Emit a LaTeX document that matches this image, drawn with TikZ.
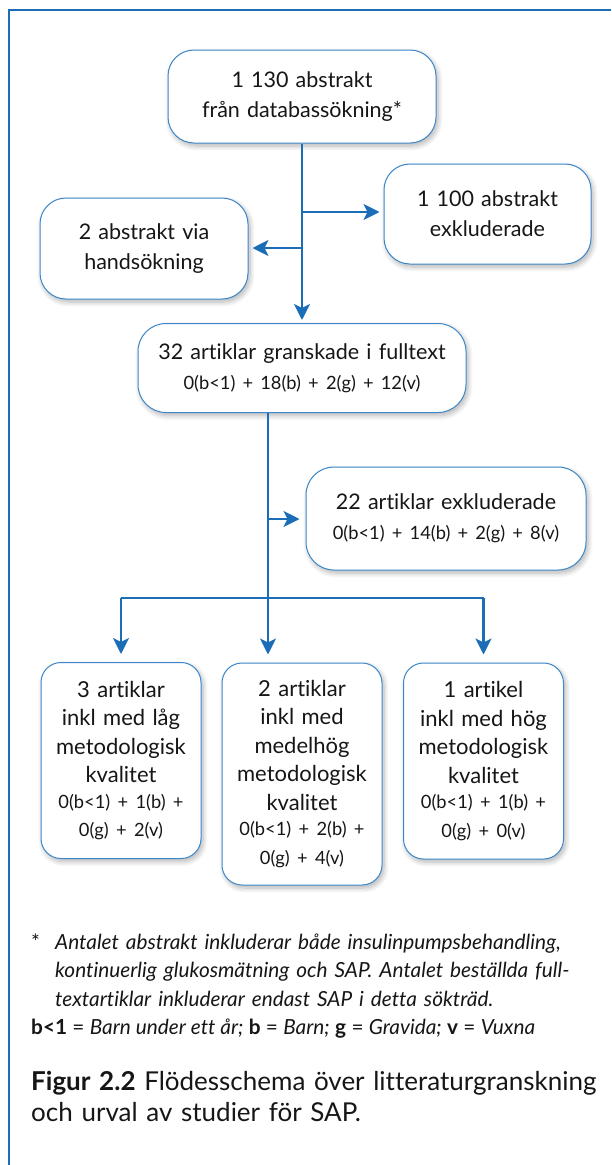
\documentclass[tikz,border=0pt]{standalone}
\usepackage{fontspec}
\setmainfont{Lato}[Ligatures=NoCommon]
\newfontfamily\countfont{Lato}[Ligatures=NoCommon, WordSpace=0.8]
\usetikzlibrary{arrows.meta,shadows.blur,calc}

\definecolor{sapblue}{HTML}{1B6DB7}
\definecolor{boxline}{HTML}{3B87C9}
\definecolor{ink}{HTML}{161616}

\newcommand{\boxsize}{\fontsize{21.5}{30}\selectfont}
\newcommand{\tallsize}{\fontsize{22}{28.5}\selectfont}
\newcommand{\countsize}{\countfont\fontsize{18.3}{25.5}\selectfont}
\newcommand{\notesize}{\fontsize{20.8}{28.5}\selectfont}
\newcommand{\capsize}{\fontsize{26}{31}\selectfont}

\begin{document}
\begin{tikzpicture}[x=1pt,y=-1pt,
  flowbox/.style={draw=boxline, line width=1pt, fill=white, rounded corners=26pt,
    align=center, text=ink, inner sep=0pt, font=\boxsize,
    blur shadow={shadow xshift=2pt, shadow yshift=-3pt, shadow blur radius=5pt,
      shadow blur steps=8, shadow opacity=30}},
  tallbox/.style={flowbox, rounded corners=20pt, font=\tallsize,
    minimum width=160pt, text width=156pt},
  link/.style={draw=sapblue, line width=2.5pt},
  flow/.style={link, -{Stealth[length=16pt,width=16pt,inset=4pt]}},
  note/.style={inner sep=0pt, text=ink, anchor=base west}
]
\useasboundingbox (0,0) rectangle (611,1165);

% outer frame, open to the right and bottom
\draw[sapblue, line width=1.6pt] (611,10) -- (9,10) -- (9,1165);

% boxes
\node[flowbox, minimum width=268pt, minimum height=93pt, text width=255pt]
  (top) at (302,96.5) {1 130 abstrakt\\ från databassökning*};
\node[flowbox, minimum width=207pt, minimum height=100pt, text width=195pt]
  (excl1) at (487.5,214) {1 100 abstrakt\\ exkluderade};
\node[flowbox, minimum width=208pt, minimum height=101pt, text width=195pt]
  (hand) at (144,248.5) {2 abstrakt via\\ handsökning};
\node[flowbox, rounded corners=28pt, minimum width=328pt, minimum height=89pt, text width=315pt]
  (full) at (302,368) {32 artiklar granskade i fulltext\par
  \countsize 0(b<1) + 18(b) + 2(g) + 12(v)};
\node[flowbox, rounded corners=28pt, minimum width=280pt, minimum height=103pt, text width=268pt]
  (excl2) at (446,518.5) {22 artiklar exkluderade\par
  \countsize 0(b<1) + 14(b) + 2(g) + 8(v)};

\node[tallbox, minimum height=196pt] (low) at (121,760.5)
  {3 artiklar\\ inkl med låg\\ metodologisk\\ kvalitet\par
  \countsize 0(b<1) + 1(b) +\\ 0(g) + 2(v)};
\node[tallbox, minimum height=222pt] (mid) at (302,774)
  {2 artiklar\\ inkl med\\ medelhög\\ metodologisk\\ kvalitet\par
  \countsize 0(b<1) + 2(b) +\\ 0(g) + 4(v)};
\node[tallbox, minimum height=196pt] (high) at (483.5,761)
  {1 artikel\\ inkl med hög\\ metodologisk\\ kvalitet\par
  \countsize 0(b<1) + 1(b) +\\ 0(g) + 0(v)};

% junction points on the connectors
\coordinate (splitA) at (302,212);
\coordinate (splitB) at (302,248);
\coordinate (splitC) at (268,519);
\coordinate (spine) at (268,598);

% connectors
\draw[flow, shorten >=3pt] (top.south) -- (full.north);
\draw[flow, shorten >=4pt] (splitA) -- (splitA -| excl1.west);
\draw[flow, shorten >=4pt] (splitB) -- (splitB -| hand.east);
\draw[link] (full.south -| spine) -- (spine);
\draw[flow, shorten >=6pt] (splitC) -- (splitC -| excl2.west);
\draw[link] (spine -| low.north) -- (spine -| high.north);
\draw[flow, shorten >=8pt] (spine) -- (spine |- mid.north);
\draw[flow, shorten >=8pt] (spine -| low.north) -- (low.north);
\draw[flow, shorten >=8pt] (spine -| high.north) -- (high.north);

% footnotes
\node[note, font=\notesize] (star) at (31,949) {*};
\node[note, font=\notesize\itshape, text width=555pt, align=left] (notetext) at (55,949)
  {Antalet abstrakt inkluderar både insulinpumpsbehandling,\\
   kontinuerlig glukosmätning och SAP. Antalet beställda full-\\
   textartiklar inkluderar endast SAP i detta sökträd.};
\node[note, font=\notesize] (key) at (31,1034.5)
  {\textbf{b<1} = \textit{Barn under ett år;} \textbf{b} = \textit{Barn;}
   \textbf{g} = \textit{Gravida;} \textbf{v} = \textit{Vuxna}};

% caption
\node[note, font=\capsize, text width=580pt, align=left] (caption) at (31,1090)
  {\textbf{Figur 2.2} Flödesschema över litteraturgranskning\\
   och urval av studier för SAP.};
\end{tikzpicture}
\end{document}
